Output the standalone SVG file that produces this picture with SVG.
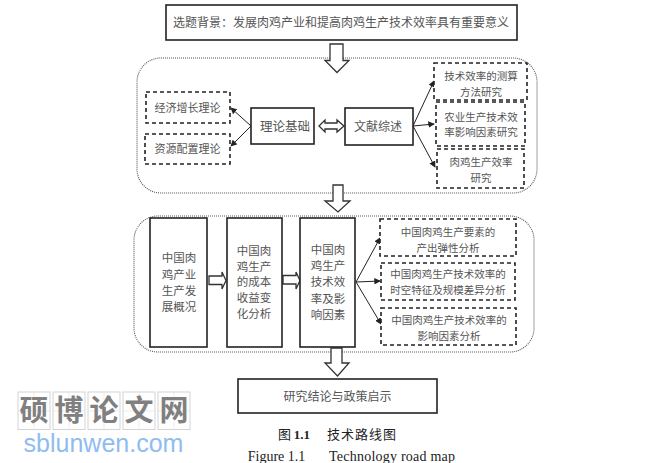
<svg xmlns="http://www.w3.org/2000/svg" width="672" height="463" viewBox="0 0 672 463">
<style>
text{font-family:"Noto Sans CJK SC","Liberation Serif",serif;fill:#555;text-anchor:middle}
.solid{fill:#fff;stroke:#222;stroke-width:1.6}
.dash{fill:#fff;stroke:#222;stroke-width:1.6;stroke-dasharray:4 3}
.group{fill:#fff;stroke:#555;stroke-width:1.1;stroke-dasharray:1 1}
.block{fill:#fff;stroke:#333;stroke-width:1.3}
.line{fill:none;stroke:#222;stroke-width:1;marker-end:url(#a)}
.t12{font-size:12px}.t11{font-size:11px}.t105{font-size:10.5px}.t115{font-size:11.5px}
.cell{fill:#fff;stroke:#d4d4d4;stroke-width:1}
.cell2{stroke:#e2e2e2;stroke-width:.7;fill:none}
.wm{font-size:29px;font-weight:700;fill:#808080}
.cap{font-size:13px;fill:#222}
.en{font-family:"Liberation Serif",serif;font-size:14px;fill:#222}
</style>
<defs>
<marker id="a" viewBox="0 0 8 8" refX="7" refY="4" markerWidth="6.5" markerHeight="6.5" markerUnits="userSpaceOnUse" orient="auto"><path d="M0 0L8 4L0 8Z" fill="#222"/></marker>
</defs>
<rect width="672" height="463" fill="#fff"/>

<g id="group-a"><rect class="group" x="137" y="58" width="400" height="135" rx="24"/></g>
<g id="group-b"><rect class="group" x="134" y="216" width="400" height="136" rx="24"/></g>

<g id="connectors">
<path class="block" d="M330 44H343V60.500H349L337 72.500L325 60.500H330Z"/>
<path class="block" d="M333 185H343V201H350L338 212L325 201H333Z"/>
<path class="block" d="M331 348H342V363H349L337.500 376L325 363H331Z"/>
<path class="block" d="M319 126L325 120V123H337V120L344 126L337 132V129H325V132Z"/>
<path class="block" d="M209 276H222V272L226 280.500L222 289V284.500H209Z"/>
<path class="block" d="M283 275.500H296V272L300 280.500L296 289V284H283Z"/>
<path class="line" d="M251 126L231 108"/>
<path class="line" d="M251 126L231 146"/>
<path class="line" d="M413 126L434 81"/>
<path class="line" d="M413 126L434 124"/>
<path class="line" d="M413 126L435 167"/>
<path class="line" d="M356 282L380 238"/>
<path class="line" d="M356 282L380 281"/>
<path class="line" d="M356 282L381 324"/>
</g>

<g id="n-background"><rect class="solid" x="166" y="5" width="351" height="35"/><text class="t12" x="341" y="26.500">选题背景：发展肉鸡产业和提高肉鸡生产技术效率具有重要意义</text></g>

<g id="n-growth"><rect class="dash" x="146" y="92" width="84" height="31"/><text class="t11" x="187.500" y="112">经济增长理论</text></g>
<g id="n-allocation"><rect class="dash" x="145" y="134" width="85" height="30"/><text class="t11" x="187.500" y="153">资源配置理论</text></g>
<g id="n-theory"><rect class="solid" x="251" y="108" width="63" height="36"/><text x="285" y="130.500" style="font-size:12.500px">理论基础</text></g>
<g id="n-review"><rect class="solid" x="345" y="108" width="68" height="37"/><text class="t12" x="378" y="130.500">文献综述</text></g>

<g id="n-measure"><rect class="dash" x="434" y="63" width="93" height="37"/><text class="t105" x="481" y="80">技术效率的测算</text><text class="t105" x="481" y="96">方法研究</text></g>
<g id="n-factors"><rect class="dash" x="436" y="102" width="89" height="44"/><text class="t105" x="481" y="121">农业生产技术效</text><text class="t105" x="481" y="136">率影响因素研究</text></g>
<g id="n-chicken"><rect class="dash" x="437" y="149" width="87" height="39"/><text class="t105" x="481" y="166">肉鸡生产效率</text><text class="t105" x="481" y="182">研究</text></g>

<g id="n-overview"><rect class="solid" x="150" y="218" width="57" height="129"/>
<text class="t115" x="179" y="262">中国肉</text><text class="t115" x="179" y="279">鸡产业</text><text class="t115" x="179" y="295">生产发</text><text class="t115" x="179" y="311">展概况</text></g>
<g id="n-cost"><rect class="solid" x="227" y="218" width="55" height="129"/>
<text class="t115" x="254" y="255">中国肉</text><text class="t115" x="254" y="271">鸡生产</text><text class="t115" x="254" y="286">的成本</text><text class="t115" x="254" y="302">收益变</text><text class="t115" x="254" y="318">化分析</text></g>
<g id="n-efficiency"><rect class="solid" x="300" y="218" width="55" height="129"/>
<text class="t115" x="328" y="254">中国肉</text><text class="t115" x="328" y="270">鸡生产</text><text class="t115" x="328" y="286">技术效</text><text class="t115" x="328" y="303">率及影</text><text class="t115" x="328" y="319">响因素</text></g>

<g id="n-elasticity"><rect class="dash" x="380" y="219" width="136" height="37"/><text class="t105" x="448" y="236">中国肉鸡生产要素的</text><text class="t105" x="448" y="252">产出弹性分析</text></g>
<g id="n-spatial"><rect class="dash" x="381" y="263" width="134" height="37"/><text class="t105" x="448" y="278">中国肉鸡生产技术效率的</text><text class="t105" x="448" y="294">时空特征及规模差异分析</text></g>
<g id="n-influence"><rect class="dash" x="381" y="308" width="135" height="37"/><text class="t105" x="449" y="324">中国肉鸡生产技术效率的</text><text class="t105" x="449" y="340">影响因素分析</text></g>

<g id="n-conclusion"><rect class="solid" x="238" y="379" width="199" height="34"/><text class="t12" x="337.500" y="400.500">研究结论与政策启示</text></g>

<g id="caption">
<text class="cap" x="294" y="439">图 <tspan font-family="Liberation Serif" font-weight="700">1.1</tspan></text>
<text class="cap" x="362" y="439" style="letter-spacing:1px">技术路线图</text>
<text class="en" x="276.500" y="461">Figure 1.1</text>
<text class="en" x="392" y="461" textLength="126">Technology road map</text>
</g>

<g id="watermark">
<rect class="cell" x="18" y="392" width="32" height="37.500"/><path class="cell2" d="M34 392V429.500M18 411H50"/>
<rect class="cell" x="53" y="392" width="32" height="37.500"/><path class="cell2" d="M69 392V429.500M53 411H85"/>
<rect class="cell" x="88" y="392" width="32" height="37.500"/><path class="cell2" d="M104 392V429.500M88 411H120"/>
<rect class="cell" x="123" y="392" width="32" height="37.500"/><path class="cell2" d="M139 392V429.500M123 411H155"/>
<rect class="cell" x="158" y="392" width="32" height="37.500"/><path class="cell2" d="M174 392V429.500M158 411H190"/>
<text class="wm" x="34" y="421">硕</text><text class="wm" x="69" y="421">博</text><text class="wm" x="104" y="421">论</text><text class="wm" x="139" y="421">文</text><text class="wm" x="174" y="421">网</text>
<text x="103.500" y="452" style="font-family:'Liberation Sans',sans-serif;font-size:25px;fill:#8fbcf0">sblunwen.com</text>
</g>
</svg>
